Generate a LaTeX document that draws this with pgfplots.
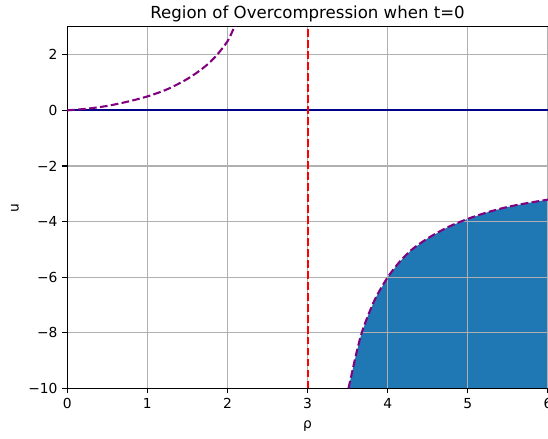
\documentclass[border=0pt]{standalone}
\usepackage{pgfplots}
\pgfplotsset{compat=1.18}
\usepackage{fontspec}
\setmainfont{DejaVu Sans}
\definecolor{tabblue}{HTML}{1F77B4}
\definecolor{mplpurple}{HTML}{800080}
\definecolor{mplred}{HTML}{FF0000}
\definecolor{mplnavy}{HTML}{00008B}
\definecolor{gridgray}{HTML}{B0B0B0}
\begin{document}
\begin{tikzpicture}[trim axis right]
\begin{axis}[
  set layers,
  scale only axis, width=347.8pt, height=261.5pt,
  xmin=0, xmax=6, ymin=-10, ymax=3,
  axis x line=box, axis y line*=left,
  xtick={0,1,2,3,4,5,6},
  ytick={-10,-8,-6,-4,-2,0,2},
  yticklabels={−10,−8,−6,−4,−2,0,2},
  /pgf/number format/assume math mode=true,
  tick align=outside, xtick pos=bottom, ytick pos=left,
  major tick length=3.5pt,
  tick style={black, line width=0.8pt},
  grid=major, grid style={gridgray, line width=0.8pt},
  axis line style={line width=0.8pt, -},
  ticklabel style={font=\fontsize{10}{12}\selectfont},
  label style={font=\fontsize{10}{12}\selectfont},
  xlabel={ρ}, ylabel={u},
  xlabel style={yshift=-2pt},
  title={Region of Overcompression when t=0},
  title style={font=\fontsize{12}{14}\selectfont, yshift=-6pt},
]
% filled region
\addplot[on layer=axis background, fill=tabblue, draw=none] coordinates {
(3.51,-10.0) (3.55,-9.49) (3.60,-8.84) (3.67,-8.05) (3.75,-7.41) (3.85,-6.74)
(4.00,-6.00) (4.15,-5.44) (4.30,-5.01) (4.50,-4.60) (4.75,-4.20) (5.00,-3.90)
(5.25,-3.66) (5.50,-3.47) (5.75,-3.33) (6.00,-3.21) (6.00,-10.0)} -- cycle;
% horizontal line u=0
\addplot[mplnavy, line width=1.5pt] coordinates {(0,0) (6,0)};
% vertical dashed line rho=3
\addplot[mplred, line width=1.5pt, dash pattern=on 5.55pt off 2.4pt] coordinates {(3,-10) (3,3)};
% upper branch
\addplot[mplpurple, line width=1.5pt, dash pattern=on 5.55pt off 2.4pt, smooth] coordinates {
(0,0) (0.25,0.06) (0.5,0.16) (0.75,0.31) (1.0,0.50) (1.25,0.76) (1.5,1.13)
(1.7,1.53) (1.85,1.93) (2.0,2.48) (2.08,2.95) (2.15,3.25)};
% lower branch
\addplot[mplpurple, line width=1.5pt, dash pattern=on 5.55pt off 2.4pt, smooth] coordinates {
(3.51,-10.0) (3.55,-9.49) (3.60,-8.84) (3.67,-8.05) (3.75,-7.41) (3.85,-6.74)
(4.00,-6.00) (4.15,-5.44) (4.30,-5.01) (4.50,-4.60) (4.75,-4.20) (5.00,-3.90)
(5.25,-3.66) (5.50,-3.47) (5.75,-3.33) (6.00,-3.21)};
\end{axis}
\path ([xshift=-4.5pt,yshift=-2pt]current bounding box.south west)
      ([yshift=1pt]current bounding box.north);
\end{tikzpicture}
\end{document}
